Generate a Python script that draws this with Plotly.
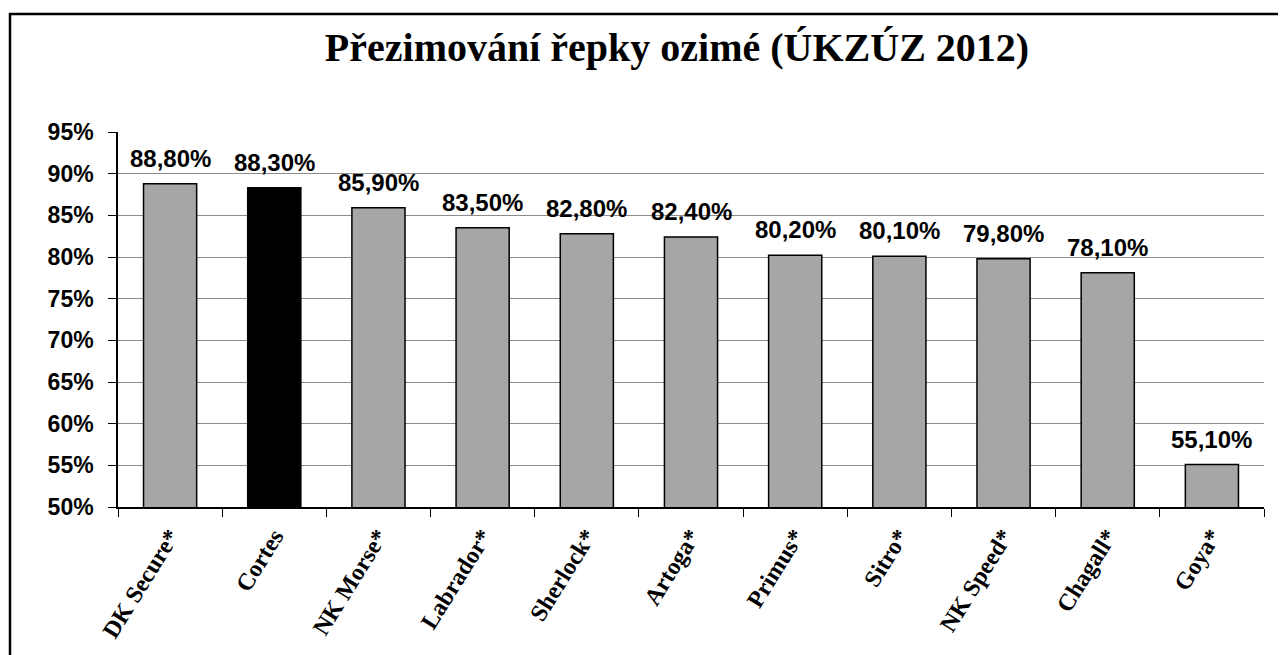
import plotly.graph_objects as go

categories = ["DK Secure*", "Cortes", "NK Morse*", "Labrador*", "Sherlock*", "Artoga*",
              "Primus*", "Sitro*", "NK Speed*", "Chagall*", "Goya*"]
values = [88.8, 88.3, 85.9, 83.5, 82.8, 82.4, 80.2, 80.1, 79.8, 78.1, 55.1]
labels = [f"{v:.2f}".replace(".", ",") + "%" for v in values]
colors = ["#000000" if c == "Cortes" else "#a6a6a6" for c in categories]
ytickvals = [50, 55, 60, 65, 70, 75, 80, 85, 90, 95]
yticktext = [f"<b>{v}%</b>" for v in ytickvals]
xticktext = [f"<b>{c}</b>" for c in categories]

W, H = 1286, 655
OFF = 8  # page body margin
L, R, T, B = 118 - OFF, W - (1264 - OFF), 132 - OFF, H - (507 - OFF)
pw = W - L - R
ph = H - T - B

fig = go.Figure(go.Bar(
    x=categories, y=values, base=0,
    marker=dict(color=colors, line=dict(color="#000000", width=1.5)),
    hoverinfo="x+y",
))

for c, v, t in zip(categories, values, labels):
    fig.add_annotation(x=c, y=v, text=f"<b>{t}</b>", showarrow=False,
                       xanchor="center", yanchor="bottom", yshift=10,
                       font=dict(family="Liberation Sans", size=24, color="#000000"))

fig.update_layout(
    width=W, height=H,
    margin=dict(l=L, r=R, t=T, b=B, autoexpand=False),
    paper_bgcolor="white", plot_bgcolor="white",
    bargap=0.49,
    showlegend=False,
    title=dict(text="<b>Přezimování řepky ozimé (ÚKZÚZ 2012)</b>",
               font=dict(family="Liberation Serif", size=40, color="#000000"),
               x=(677 - OFF) / W, xanchor="center", y=1 - (47 - OFF) / H, yanchor="middle"),
)
fig.update_yaxes(range=[50, 95], tickvals=ytickvals, ticktext=yticktext,
                 showgrid=True, gridcolor="#8c8c8c", gridwidth=1,
                 showline=True, linecolor="#000000", linewidth=1.5,
                 ticks="outside", ticklen=8, tickcolor="#000000",
                 ticklabelstandoff=10,
                 tickfont=dict(family="Liberation Sans", size=23, color="#000000"),
                 automargin=False, zeroline=False)
fig.update_xaxes(tickvals=categories, ticktext=xticktext,
                 tickangle=-58, showline=True, linecolor="#000000", linewidth=1.5,
                 ticks="outside", ticklen=8, tickcolor="#000000", tickson="boundaries",
                 ticklabelstandoff=4,
                 tickfont=dict(family="Liberation Serif", size=24, color="#000000"),
                 automargin=False, range=[-0.5, 10.5])

# outer frame
fig.add_shape(type="rect", xref="paper", yref="paper",
              x0=(10 - OFF - L) / pw, x1=(W + 20 - L) / pw,
              y0=-(H + 20 - (H - B)) / ph, y1=((H - B) - (14 - OFF)) / ph,
              line=dict(color="#000000", width=2.5), fillcolor="rgba(0,0,0,0)", layer="above")

fig.write_html("out.html")
